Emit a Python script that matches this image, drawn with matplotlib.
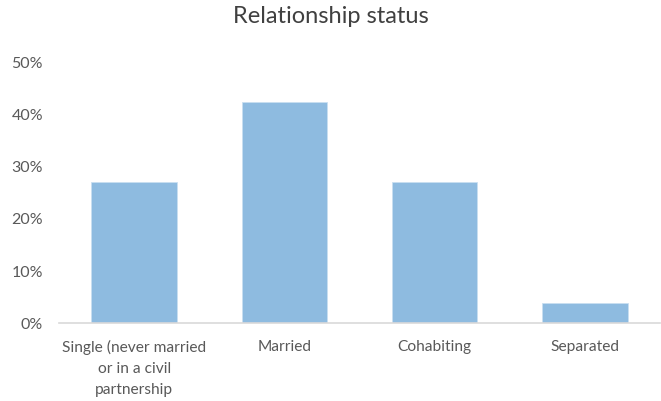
import matplotlib.pyplot as plt
from matplotlib.ticker import PercentFormatter

plt.rcParams['font.family'] = ['Lato', 'DejaVu Sans']

categories = ['Single (never married\nor in a civil\npartnership', 'Married', 'Cohabiting', 'Separated']
shares = [0.27, 0.423, 0.27, 0.038]
yticks = [0, 0.1, 0.2, 0.3, 0.4, 0.5]

fig = plt.figure(figsize=(6.61, 4.01), dpi=100)
ax = fig.add_axes([59 / 661, 77.7 / 401, 601 / 661, 261 / 401])

ax.bar(range(len(categories)), shares, width=0.57, color='#8EBBE0', edgecolor='#C9DFF1', linewidth=0.6)
ax.set_xlim(-0.5, len(categories) - 0.5)
ax.set_ylim(0, 0.5)
ax.set_yticks(yticks)
ax.yaxis.set_major_formatter(PercentFormatter(1.0, decimals=0))
ax.set_xticks(range(len(categories)))
ax.set_xticklabels(categories, fontsize=11.2, color='#595959', linespacing=1.62)
ax.tick_params(axis='y', labelsize=11.5, labelcolor='#595959', length=0, pad=11.5)
ax.tick_params(axis='x', length=0, pad=12)

for s in ['top', 'right', 'left']:
    ax.spines[s].set_visible(False)
ax.spines['bottom'].set_color('#D9D9D9')
ax.spines['bottom'].set_linewidth(1.2)

fig.suptitle('Relationship status', fontsize=17, color='#404040', y=0.985)

fig.savefig('out.png', dpi=100)
